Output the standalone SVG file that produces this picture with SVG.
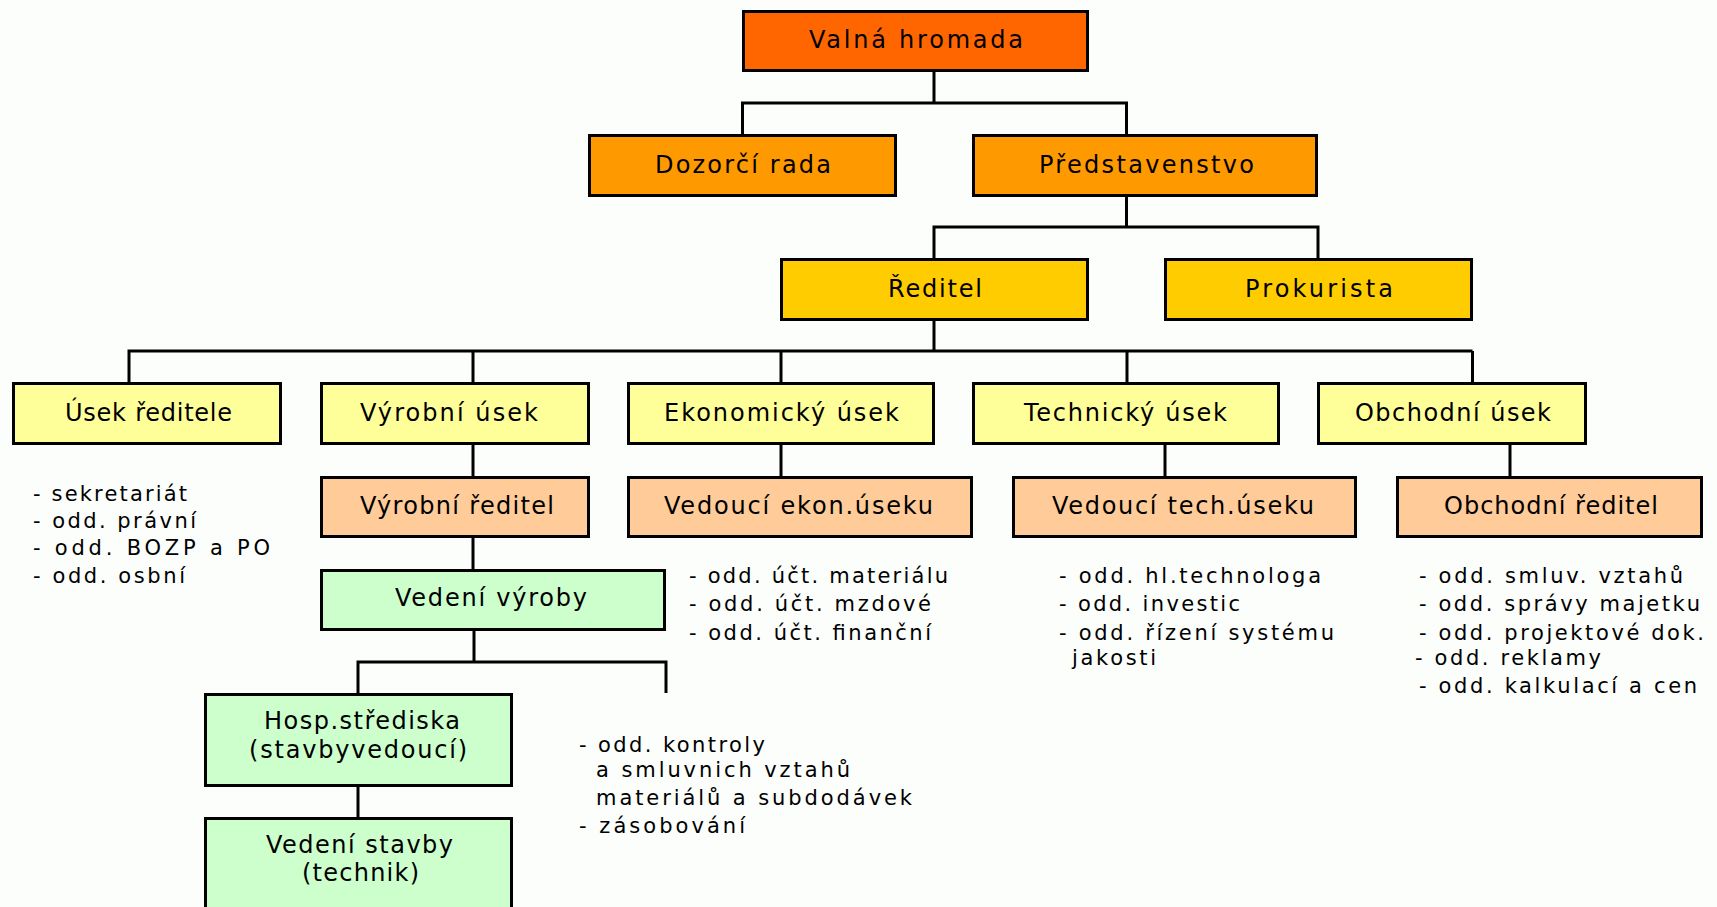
<svg xmlns="http://www.w3.org/2000/svg" width="1717" height="907" viewBox="0 0 1717 907">
<style>
.b{stroke:#000;stroke-width:3}
.c1{fill:#FF6600}.c2{fill:#FF9900}.c3{fill:#FFCC00}.c4{fill:#FFFF99}.c5{fill:#FFCC99}.c6{fill:#CCFFCC}
.t{font-family:"DejaVu Sans","Liberation Sans",sans-serif;font-size:24px;fill:#000}
.l{font-family:"DejaVu Sans","Liberation Sans",sans-serif;font-size:21px;fill:#000}
#connectors path{fill:none;stroke:#000;stroke-width:3}
</style>
<rect width="1717" height="907" fill="#FCFEFC"/>
<g id="connectors">
<path d="M934 72V103M742.5 134V103H1126.5V134"/>
<path d="M1126.5 197V227M934 258V227H1318V258"/>
<path d="M934 321V351M129 382V351H1472.5M473 351V382M781 351V382M1127 351V382M1472.5 351V382"/>
<path d="M473 445V476M781 445V476M1165 445V476M1510 445V476"/>
<path d="M473 538V569"/>
<path d="M474 631V662M358 693V662H666V693"/>
<path d="M358 787V817"/>
</g>
<g id="valna"><rect class="b c1" x="743.5" y="11.5" width="344" height="59"/><text class="t" x="809" y="48" textLength="214" lengthAdjust="spacing">Valná hromada</text></g>
<g id="dozorci"><rect class="b c2" x="589.5" y="135.5" width="306" height="60"/><text class="t" x="655" y="173" textLength="176" lengthAdjust="spacing">Dozorčí rada</text></g>
<g id="predstavenstvo"><rect class="b c2" x="973.5" y="135.5" width="343" height="60"/><text class="t" x="1039" y="173" textLength="215" lengthAdjust="spacing">Představenstvo</text></g>
<g id="reditel"><rect class="b c3" x="781.5" y="259.5" width="306" height="60"/><text class="t" x="888" y="297" textLength="94" lengthAdjust="spacing">Ředitel</text></g>
<g id="prokurista"><rect class="b c3" x="1165.5" y="259.5" width="306" height="60"/><text class="t" x="1245" y="297" textLength="148" lengthAdjust="spacing">Prokurista</text></g>
<g id="usek-reditele"><rect class="b c4" x="13.5" y="383.5" width="267" height="60"/><text class="t" x="65" y="421" textLength="167" lengthAdjust="spacing">Úsek ředitele</text></g>
<g id="vyrobni-usek"><rect class="b c4" x="321.5" y="383.5" width="267" height="60"/><text class="t" x="360" y="421" textLength="178" lengthAdjust="spacing">Výrobní úsek</text></g>
<g id="ekonomicky-usek"><rect class="b c4" x="628.5" y="383.5" width="305" height="60"/><text class="t" x="664" y="421" textLength="235" lengthAdjust="spacing">Ekonomický úsek</text></g>
<g id="technicky-usek"><rect class="b c4" x="973.5" y="383.5" width="305" height="60"/><text class="t" x="1024" y="421" textLength="203" lengthAdjust="spacing">Technický úsek</text></g>
<g id="obchodni-usek"><rect class="b c4" x="1318.5" y="383.5" width="267" height="60"/><text class="t" x="1355" y="421" textLength="196" lengthAdjust="spacing">Obchodní úsek</text></g>
<g id="vyrobni-reditel"><rect class="b c5" x="321.5" y="477.5" width="267" height="59"/><text class="t" x="360" y="514" textLength="194" lengthAdjust="spacing">Výrobní ředitel</text></g>
<g id="vedouci-ekon"><rect class="b c5" x="628.5" y="477.5" width="343" height="59"/><text class="t" x="664" y="514" textLength="269" lengthAdjust="spacing">Vedoucí ekon.úseku</text></g>
<g id="vedouci-tech"><rect class="b c5" x="1013.5" y="477.5" width="342" height="59"/><text class="t" x="1052" y="514" textLength="262" lengthAdjust="spacing">Vedoucí tech.úseku</text></g>
<g id="obchodni-reditel"><rect class="b c5" x="1397.5" y="477.5" width="304" height="59"/><text class="t" x="1444" y="514" textLength="214" lengthAdjust="spacing">Obchodní ředitel</text></g>
<g id="vedeni-vyroby"><rect class="b c6" x="321.5" y="570.5" width="343" height="59"/><text class="t" x="395" y="606" textLength="192" lengthAdjust="spacing">Vedení výroby</text></g>
<g id="hosp-strediska"><rect class="b c6" x="205.5" y="694.5" width="306" height="91"/><text class="t" x="264" y="729" textLength="196" lengthAdjust="spacing">Hosp.střediska</text><text class="t" x="249" y="758" textLength="218" lengthAdjust="spacing">(stavbyvedoucí)</text></g>
<g id="vedeni-stavby"><rect class="b c6" x="205.5" y="818.5" width="306" height="100"/><text class="t" x="266" y="853" textLength="187" lengthAdjust="spacing">Vedení stavby</text><text class="t" x="302" y="881" textLength="117" lengthAdjust="spacing">(technik)</text></g>
<g id="list-usek-reditele">
<text class="l" x="33" y="501" textLength="154" lengthAdjust="spacing">- sekretariát</text>
<text class="l" x="33" y="528" textLength="163" lengthAdjust="spacing">- odd. právní</text>
<text class="l" x="33" y="555" textLength="237" lengthAdjust="spacing">- odd. BOZP a PO</text>
<text class="l" x="33" y="583" textLength="152" lengthAdjust="spacing">- odd. osbní</text>
</g>
<g id="list-ekon">
<text class="l" x="689" y="583" textLength="259" lengthAdjust="spacing">- odd. účt. materiálu</text>
<text class="l" x="689" y="611" textLength="242" lengthAdjust="spacing">- odd. účt. mzdové</text>
<text class="l" x="689" y="640" textLength="242" lengthAdjust="spacing">- odd. účt. finanční</text>
</g>
<g id="list-tech">
<text class="l" x="1059" y="583" textLength="262" lengthAdjust="spacing">- odd. hl.technologa</text>
<text class="l" x="1059" y="611" textLength="181" lengthAdjust="spacing">- odd. investic</text>
<text class="l" x="1059" y="640" textLength="275" lengthAdjust="spacing">- odd. řízení systému</text>
<text class="l" x="1072" y="665" textLength="84" lengthAdjust="spacing">jakosti</text>
</g>
<g id="list-obchod">
<text class="l" x="1419" y="583" textLength="264" lengthAdjust="spacing">- odd. smluv. vztahů</text>
<text class="l" x="1419" y="611" textLength="281" lengthAdjust="spacing">- odd. správy majetku</text>
<text class="l" x="1419" y="640" textLength="285" lengthAdjust="spacing">- odd. projektové dok.</text>
<text class="l" x="1415" y="665" textLength="186" lengthAdjust="spacing">- odd. reklamy</text>
<text class="l" x="1419" y="693" textLength="278" lengthAdjust="spacing">- odd. kalkulací a cen</text>
</g>
<g id="list-kontroly">
<text class="l" x="579" y="752" textLength="186" lengthAdjust="spacing">- odd. kontroly</text>
<text class="l" x="596" y="777" textLength="254" lengthAdjust="spacing">a smluvnich vztahů</text>
<text class="l" x="596" y="805" textLength="316" lengthAdjust="spacing">materiálů a subdodávek</text>
<text class="l" x="579" y="833" textLength="166" lengthAdjust="spacing">- zásobování</text>
</g>
</svg>
